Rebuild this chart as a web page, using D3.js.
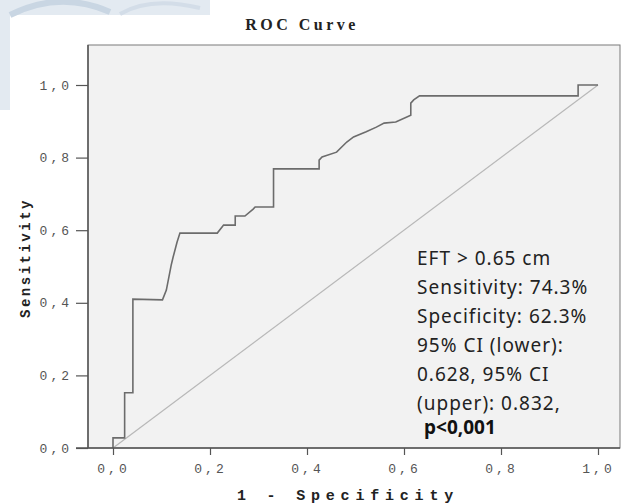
<!DOCTYPE html>
<html>
<head>
<meta charset="utf-8">
<script src="https://cdn.jsdelivr.net/npm/d3@7"></script>
<style>
  html, body { margin: 0; padding: 0; background: #fff; }
  svg { display: block; }
</style>
</head>
<body>
<svg id="chart" width="622" height="504"></svg>
<script>
// ---- data ----
const rocFPR = [0, 0, 0.024, 0.024, 0.041, 0.041, 0.102, 0.110, 0.120, 0.124, 0.132, 0.138, 0.215, 0.228, 0.252, 0.252, 0.272, 0.289, 0.293, 0.331, 0.331, 0.425, 0.425, 0.431, 0.461, 0.482, 0.496, 0.522, 0.543, 0.559, 0.583, 0.614, 0.614, 0.620, 0.632, 0.959, 0.959, 1.0];
const rocTPR = [0, 0.028, 0.028, 0.152, 0.152, 0.410, 0.408, 0.435, 0.504, 0.526, 0.567, 0.592, 0.592, 0.614, 0.614, 0.639, 0.639, 0.658, 0.664, 0.664, 0.769, 0.769, 0.793, 0.802, 0.815, 0.843, 0.857, 0.871, 0.884, 0.895, 0.898, 0.917, 0.950, 0.959, 0.970, 0.970, 1.0, 1.0];
const refLine = [0, 1];
const tickValues = [0, 0.2, 0.4, 0.6, 0.8, 1.0];
const tickLabels = ["0,0", "0,2", "0,4", "0,6", "0,8", "1,0"];
const title = "ROC Curve";
const xTitle = "1 - Specificity";
const yTitle = "Sensitivity";
const noteLines = ["EFT > 0.65 cm", "Sensitivity: 74.3%", "Specificity: 62.3%", "95% CI (lower):", "0.628, 95% CI", "(upper): 0.832,"];
const noteP = "p<0,001";

// ---- layout ----
const svg = d3.select("#chart");
const frame = { left: 88, top: 45, right: 620, bottom: 448 };
const x = d3.scaleLinear().domain([0, 1]).range([113, 598]);
const y = d3.scaleLinear().domain([0, 1]).range([448, 85]);

// faint watermark region (outside white panel)
svg.append("rect").attr("x", 0).attr("y", 0).attr("width", 210).attr("height", 15).attr("fill", "#e3eaf1");
svg.append("rect").attr("x", 0).attr("y", 0).attr("width", 10).attr("height", 110).attr("fill", "#e3eaf1");
svg.append("path").attr("d", "M10,15 Q60,-10 110,12").attr("fill", "none").attr("stroke", "#c9d6e3").attr("stroke-width", 6);
svg.append("path").attr("d", "M120,14 Q150,-4 200,8").attr("fill", "none").attr("stroke", "#d3dde8").attr("stroke-width", 4);

// plot background
svg.append("rect")
  .attr("x", frame.left).attr("y", frame.top)
  .attr("width", frame.right - frame.left).attr("height", frame.bottom - frame.top)
  .attr("fill", "#f2f2f2").attr("stroke", "#7a7a7a").attr("stroke-width", 1);

// diagonal reference
svg.append("line")
  .attr("x1", x(refLine[0])).attr("y1", y(refLine[0]))
  .attr("x2", x(refLine[1])).attr("y2", y(refLine[1]))
  .attr("stroke", "#b8b8b8").attr("stroke-width", 1.2);

// ROC curve
const pts = rocFPR.map((v, i) => [v, rocTPR[i]]);
svg.append("path")
  .datum(pts)
  .attr("d", d3.line().x(d => x(d[0])).y(d => y(d[1])))
  .attr("fill", "none").attr("stroke", "#6c6c6c").attr("stroke-width", 1.6)
  .attr("stroke-linejoin", "miter");

// axes
const tickFont = "'Liberation Mono', 'DejaVu Sans Mono', monospace";
const fmt = d => tickLabels[tickValues.indexOf(d)];

const yAxis = svg.append("g")
  .attr("transform", `translate(${frame.left},0)`)
  .call(d3.axisLeft(y).tickValues(tickValues).tickFormat(fmt).tickSize(12).tickPadding(4));
const xAxis = svg.append("g")
  .attr("transform", `translate(0,${frame.bottom})`)
  .call(d3.axisBottom(x).tickValues(tickValues).tickFormat(fmt).tickSize(7).tickPadding(9));

[yAxis, xAxis].forEach(g => {
  g.select(".domain").remove();
  g.selectAll(".tick line").attr("stroke", "#555").attr("stroke-width", 1.2);
  g.selectAll(".tick text")
    .attr("fill", "#555")
    .style("font-family", tickFont)
    .style("font-size", "13px")
    .style("letter-spacing", "3px");
});

// axis lines (left and bottom), darker
svg.append("line").attr("x1", frame.left).attr("y1", frame.top).attr("x2", frame.left).attr("y2", frame.bottom)
  .attr("stroke", "#555").attr("stroke-width", 1.5);
svg.append("line").attr("x1", frame.left - 12).attr("y1", frame.bottom).attr("x2", frame.right).attr("y2", frame.bottom)
  .attr("stroke", "#555").attr("stroke-width", 1.5);

// titles
svg.append("text")
  .attr("x", 302).attr("y", 30)
  .attr("text-anchor", "middle")
  .style("font-family", "'Liberation Serif', 'DejaVu Serif', serif")
  .style("font-size", "16px").style("font-weight", "bold")
  .style("letter-spacing", "3.5px")
  .attr("fill", "#222")
  .text(title);

svg.append("text")
  .attr("x", 348).attr("y", 500)
  .attr("text-anchor", "middle")
  .style("font-family", tickFont)
  .style("font-size", "15px").style("font-weight", "bold")
  .style("letter-spacing", "5.8px")
  .attr("fill", "#222")
  .text(xTitle);

svg.append("text")
  .attr("transform", "translate(30,258) rotate(-90)")
  .attr("text-anchor", "middle")
  .style("font-family", tickFont)
  .style("font-size", "14px").style("font-weight", "bold")
  .style("letter-spacing", "2.5px")
  .attr("fill", "#222")
  .text(yTitle);

// annotation block
const noteFont = "'Comic Sans MS', 'Noto Sans', sans-serif";
const note = svg.append("g");
noteLines.forEach((t, i) => {
  note.append("text")
    .attr("x", 417).attr("y", 265 + i * 29)
    .style("font-family", noteFont)
    .style("font-size", "19px")
    .style("letter-spacing", "1px")
    .attr("fill", "#222")
    .text(t);
});
note.append("text")
  .attr("x", 424).attr("y", 434)
  .style("font-family", noteFont)
  .style("font-size", "19px").style("font-weight", "bold")
  .attr("fill", "#111")
  .text(noteP);
</script>
</body>
</html>
